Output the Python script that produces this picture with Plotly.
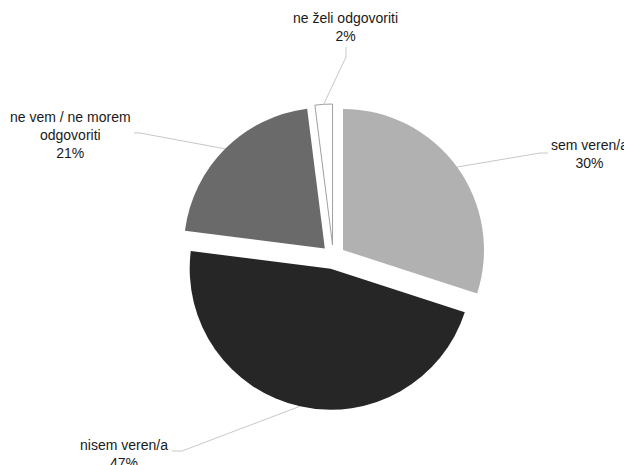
import math
import plotly.graph_objects as go

labels = ["sem veren/a", "nisem veren/a", "ne vem / ne morem odgovoriti", "ne želi odgovoriti"]
label_text = ["sem veren/a<br>30%", "nisem veren/a<br>47%", "ne vem / ne morem<br>odgovoriti<br>21%", "ne želi odgovoriti<br>2%"]
values = [30, 47, 21, 2]
colors = ["#b1b1b1", "#262626", "#6a6a6a", "#ffffff"]
line_colors = ["#ffffff", "#ffffff", "#ffffff", "#a0a0a0"]
line_widths = [0, 0, 0, 1]

W, H = 632, 465
OFF = 8                        # page body margin in the browser
PULL = 0.085
CX, CY = 333.3 - OFF, 257.0 - OFF   # pie centre in figure pixels
R = 141.0                      # pie radius in pixels
BOX = 2 * R * (1 + PULL)

dom_x = [(CX - BOX / 2) / W, (CX + BOX / 2) / W]
y0 = 1 - (CY + BOX / 2) / H
dom_y = [y0, y0 + BOX / H]

fig = go.Figure(go.Pie(
    labels=labels, values=values, sort=False, direction="clockwise", rotation=0,
    pull=PULL, textinfo="none", hoverinfo="label+percent",
    marker=dict(colors=colors, line=dict(color=line_colors, width=line_widths)),
    domain=dict(x=dom_x, y=dom_y), showlegend=False,
))

# label placement (screen pixels): text centre, elbow, end of leader
text_pos = [(589.5, 153.5), (124, 454), (70, 135), (345.5, 26.5)]
elbow = [[(540, 153), (548, 153)], [(182, 451), (172, 451)],
         [(140, 133), (134, 133)], [(346, 57), (346, 47)]]

def px(x, y):
    return x / W, 1 - y / H

def scr(x, y):
    return px(x - OFF, y - OFF)

total = sum(values)
cum = 0
shapes = []
annotations = []
for i, v in enumerate(values):
    mid = (cum + v / 2) / total * 2 * math.pi
    cum += v
    dx, dy = math.sin(mid), -math.cos(mid)
    vx, vy = CX + PULL * R * dx, CY + PULL * R * dy
    ax, ay = vx + R * dx, vy + R * dy
    pts = [px(ax, ay)] + [scr(x, y) for x, y in elbow[i]]
    path = "M " + " L ".join(f"{x:.5f},{y:.5f}" for x, y in pts)
    shapes.append(dict(type="path", path=path, xref="paper", yref="paper",
                       line=dict(color="#c8c8c8", width=1)))
    tx, ty = scr(*text_pos[i])
    annotations.append(dict(text=label_text[i], x=tx, y=ty, xref="paper", yref="paper",
                            xanchor="center", yanchor="middle", showarrow=False,
                            font=dict(family="Liberation Sans, Arial", size=14, color="#1a1a1a")))

fig.update_layout(
    width=W, height=H, margin=dict(l=0, r=0, t=0, b=0),
    paper_bgcolor="white", plot_bgcolor="white",
    shapes=shapes, annotations=annotations,
)
fig.write_html("out.html")
